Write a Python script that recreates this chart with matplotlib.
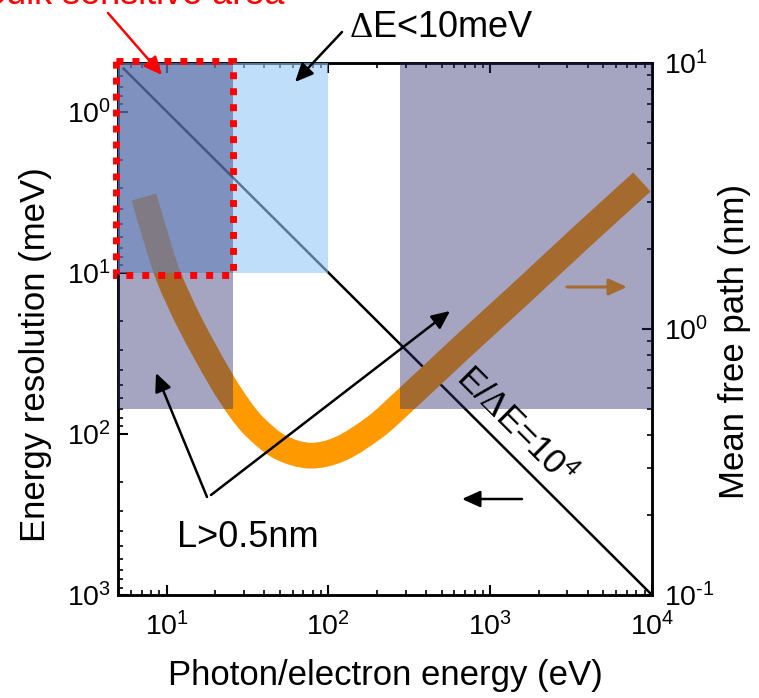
import matplotlib
matplotlib.use("Agg")
import numpy as np
import matplotlib.pyplot as plt
from matplotlib.patches import Rectangle, PathPatch
from matplotlib.path import Path
from matplotlib.ticker import FuncFormatter

plt.rcParams['font.family'] = ['Liberation Sans', 'DejaVu Sans']
plt.rcParams['mathtext.fontset'] = 'custom'
plt.rcParams['mathtext.rm'] = 'Liberation Sans'
plt.rcParams['mathtext.it'] = 'Liberation Sans:italic'
plt.rcParams['mathtext.bf'] = 'Liberation Sans:bold'
plt.rcParams['mathtext.sf'] = 'Liberation Serif'
plt.rcParams['mathtext.default'] = 'regular'
plt.rcParams['axes.unicode_minus'] = False

# Universal curve: inelastic mean free path of electrons vs kinetic energy
mfp_energy_ev = [7.24, 8.59, 10.3, 13.9, 21.7, 28.4, 35.1, 50.1, 76.9, 118,
                 194, 277, 650, 1530, 3580, 8660]
mfp_nm = [3.135, 2.198, 1.569, 1.053, 0.643, 0.500, 0.428, 0.360, 0.334, 0.354,
          0.428, 0.518, 0.841, 1.354, 2.189, 3.569]

# Resolving power line E/dE = 1e4
resolving_power = 1e4
line_energy_ev = [5.42, 1e4]
line_res_mev = [e * 1e3 / resolving_power for e in line_energy_ev]

# Shaded windows
res_limit_mev = 10        # dE < 10 meV
res_window_emax_ev = 100
mfp_limit_nm = 0.5        # L > 0.5 nm
low_window_emax_ev = 25.7
high_window_emin_ev = 275

# Axis ranges
e_lim = (5, 1e4)
res_lim = (1e3, 0.5)
mfp_lim = (0.1, 10)

ORANGE = '#FF9900'
SHADE = '#2A2A6E'
LIGHT_BLUE = '#93C8F7'

W, H = 759, 698
fig = plt.figure(figsize=(W / 100, H / 100), dpi=100)
ax = fig.add_axes([118 / W, 1 - 595 / H, 534 / W, 532 / H])
ax2 = ax.twinx()


def fp(x, y):
    """Pixel position (from top-left) to figure fraction."""
    return (x / W, 1 - y / H)


def smooth_log_path(xs, ys, y_aspect):
    """Cubic Bezier path through the points, smooth in log-log space."""
    p = np.column_stack([np.log10(xs), np.log10(ys) * y_aspect])
    n = len(p)
    d = np.hypot(*np.diff(p, axis=0).T)
    tang = np.zeros_like(p)
    tang[0] = (p[1] - p[0]) / d[0]
    tang[-1] = (p[-1] - p[-2]) / d[-1]
    for i in range(1, n - 1):
        tang[i] = (p[i + 1] - p[i - 1]) / (d[i - 1] + d[i])
    verts = [p[0]]
    codes = [Path.MOVETO]
    for i in range(n - 1):
        verts += [p[i] + tang[i] * d[i] / 3, p[i + 1] - tang[i + 1] * d[i] / 3, p[i + 1]]
        codes += [Path.CURVE4] * 3
    v = np.array(verts)
    v[:, 1] /= y_aspect
    return Path(10 ** v, codes)


ax.set_xscale('log')
ax.set_yscale('log')
ax2.set_yscale('log')
ax.set_xlim(*e_lim)
ax.set_ylim(*res_lim)
ax2.set_ylim(*mfp_lim)

# E/dE line on the resolution axis
ax.plot(line_energy_ev, line_res_mev, color='black', lw=1.8, zorder=2)

# Mean free path curve on the right axis
x_decades = np.log10(e_lim[1] / e_lim[0])
y_decades = np.log10(mfp_lim[1] / mfp_lim[0])
aspect = (532 / y_decades) / (534 / x_decades)
ax2.add_patch(PathPatch(smooth_log_path(mfp_energy_ev, mfp_nm, aspect),
                        facecolor='none', edgecolor=ORANGE, lw=18.5,
                        capstyle='butt', joinstyle='round', zorder=1))

# Shaded windows, drawn over curves and axes
ax2.add_patch(Rectangle((e_lim[0], res_lim[1]), res_window_emax_ev - e_lim[0],
                        res_limit_mev - res_lim[1], transform=ax.transData,
                        facecolor=LIGHT_BLUE, alpha=0.6, lw=0, zorder=3))
ax2.add_patch(Rectangle((e_lim[0], mfp_limit_nm), low_window_emax_ev - e_lim[0],
                        mfp_lim[1] - mfp_limit_nm, facecolor=SHADE, alpha=0.42,
                        lw=0, zorder=3.1))
ax2.add_patch(Rectangle((high_window_emin_ev, mfp_limit_nm),
                        e_lim[1] - high_window_emin_ev, mfp_lim[1] - mfp_limit_nm,
                        facecolor=SHADE, alpha=0.42, lw=0, zorder=3.1))

# Bulk sensitive area outline
ax2.add_patch(Rectangle((4.83, 0.486), low_window_emax_ev - 4.83, 10.3 - 0.486,
                        transform=ax.transData, fill=False, edgecolor='#FF0000',
                        lw=5, linestyle=(0, (1, 1.3)), clip_on=False, zorder=6))


def pow10_label(v, pos):
    k = int(round(np.log10(v)))
    exp = str(k).replace('-', '\u2010')
    return r'$\mathdefault{10^{%s}}$' % exp


# Ticks and spines
for a in (ax, ax2):
    for s in a.spines.values():
        s.set_linewidth(1.8)
ax.tick_params(axis='both', which='both', direction='in', top=True, right=False)
ax.tick_params(which='major', length=7, width=1.5, labelsize=20.5)
ax.tick_params(which='minor', length=3.6, width=1.2)
ax.tick_params(axis='x', which='major', pad=12)
ax.tick_params(axis='y', which='major', pad=5)
ax2.tick_params(axis='y', which='both', direction='in')
ax2.tick_params(axis='y', which='major', length=7, width=1.5, labelsize=20.5, pad=9)
ax2.tick_params(axis='y', which='minor', length=3.6, width=1.2)
ax2.yaxis.set_major_formatter(FuncFormatter(pow10_label))

ax.set_xlabel('Photon/electron energy (eV)', fontsize=25)
ax.set_ylabel('Energy resolution (meV)', fontsize=25)
ax2.set_ylabel('Mean free path (nm)', fontsize=25)
ax.xaxis.set_label_coords(0.5, -0.152)
ax.yaxis.set_label_coords(-0.155, 0.452)
ax2.yaxis.set_label_coords(1.155, 0.476)
for lab in (ax.xaxis.label, ax.yaxis.label, ax2.yaxis.label):
    lab.set_va('center')

arrow_black = dict(arrowstyle='-|>,head_length=0.55,head_width=0.25',
                   mutation_scale=20, color='black', lw=1.8, shrinkA=0, shrinkB=0)

# Orange arrow: curve belongs to the right axis (under the shading)
ax2.annotate('', xy=fp(627, 287), xytext=fp(567, 287), xycoords='figure fraction',
             textcoords='figure fraction', zorder=1,
             arrowprops=dict(arrowstyle='-|>,head_length=0.55,head_width=0.25',
                             mutation_scale=20, color=ORANGE, lw=2.2,
                             shrinkA=0, shrinkB=0))
# Black arrow: line belongs to the left axis
ax2.annotate('', xy=fp(462, 499), xytext=fp(522, 499), xycoords='figure fraction',
             textcoords='figure fraction', zorder=5, arrowprops=arrow_black)

# L > 0.5 nm
ax2.annotate('', xy=fp(156, 373), xytext=fp(207, 497), xycoords='figure fraction',
             textcoords='figure fraction', zorder=5, arrowprops=arrow_black)
ax2.annotate('', xy=fp(450, 311), xytext=fp(211, 495), xycoords='figure fraction',
             textcoords='figure fraction', zorder=5, arrowprops=arrow_black)
fig.text(*fp(248, 547), 'L>0.5nm', fontsize=26, ha='center', va='baseline')

# dE < 10 meV
ax2.annotate('', xy=fp(295, 82), xytext=fp(342, 32), xycoords='figure fraction',
             textcoords='figure fraction', zorder=5, annotation_clip=False,
             arrowprops=arrow_black)
fig.text(*fp(441, 37), r'$\mathsf{Δ}$E<10meV', fontsize=26, ha='center',
         va='baseline')

# Bulk sensitive area
ax2.annotate('', xy=fp(162, 75), xytext=fp(108, 13), xycoords='figure fraction',
             textcoords='figure fraction', zorder=6, annotation_clip=False,
             arrowprops=dict(arrowstyle='-|>,head_length=0.55,head_width=0.25',
                             mutation_scale=20, color='#FF0000', lw=1.8,
                             shrinkA=0, shrinkB=0))
fig.text(*fp(133, 4), 'Bulk sensitive area', fontsize=26, color='#FF0000',
         ha='center', va='baseline')

# Resolving power label along the line
fig.text(*fp(516, 426), r'E/$\mathsf{Δ}$E=10$^4$', fontsize=25, rotation=-45,
         rotation_mode='anchor', ha='center', va='center')

fig.savefig('out.png', dpi=100)
